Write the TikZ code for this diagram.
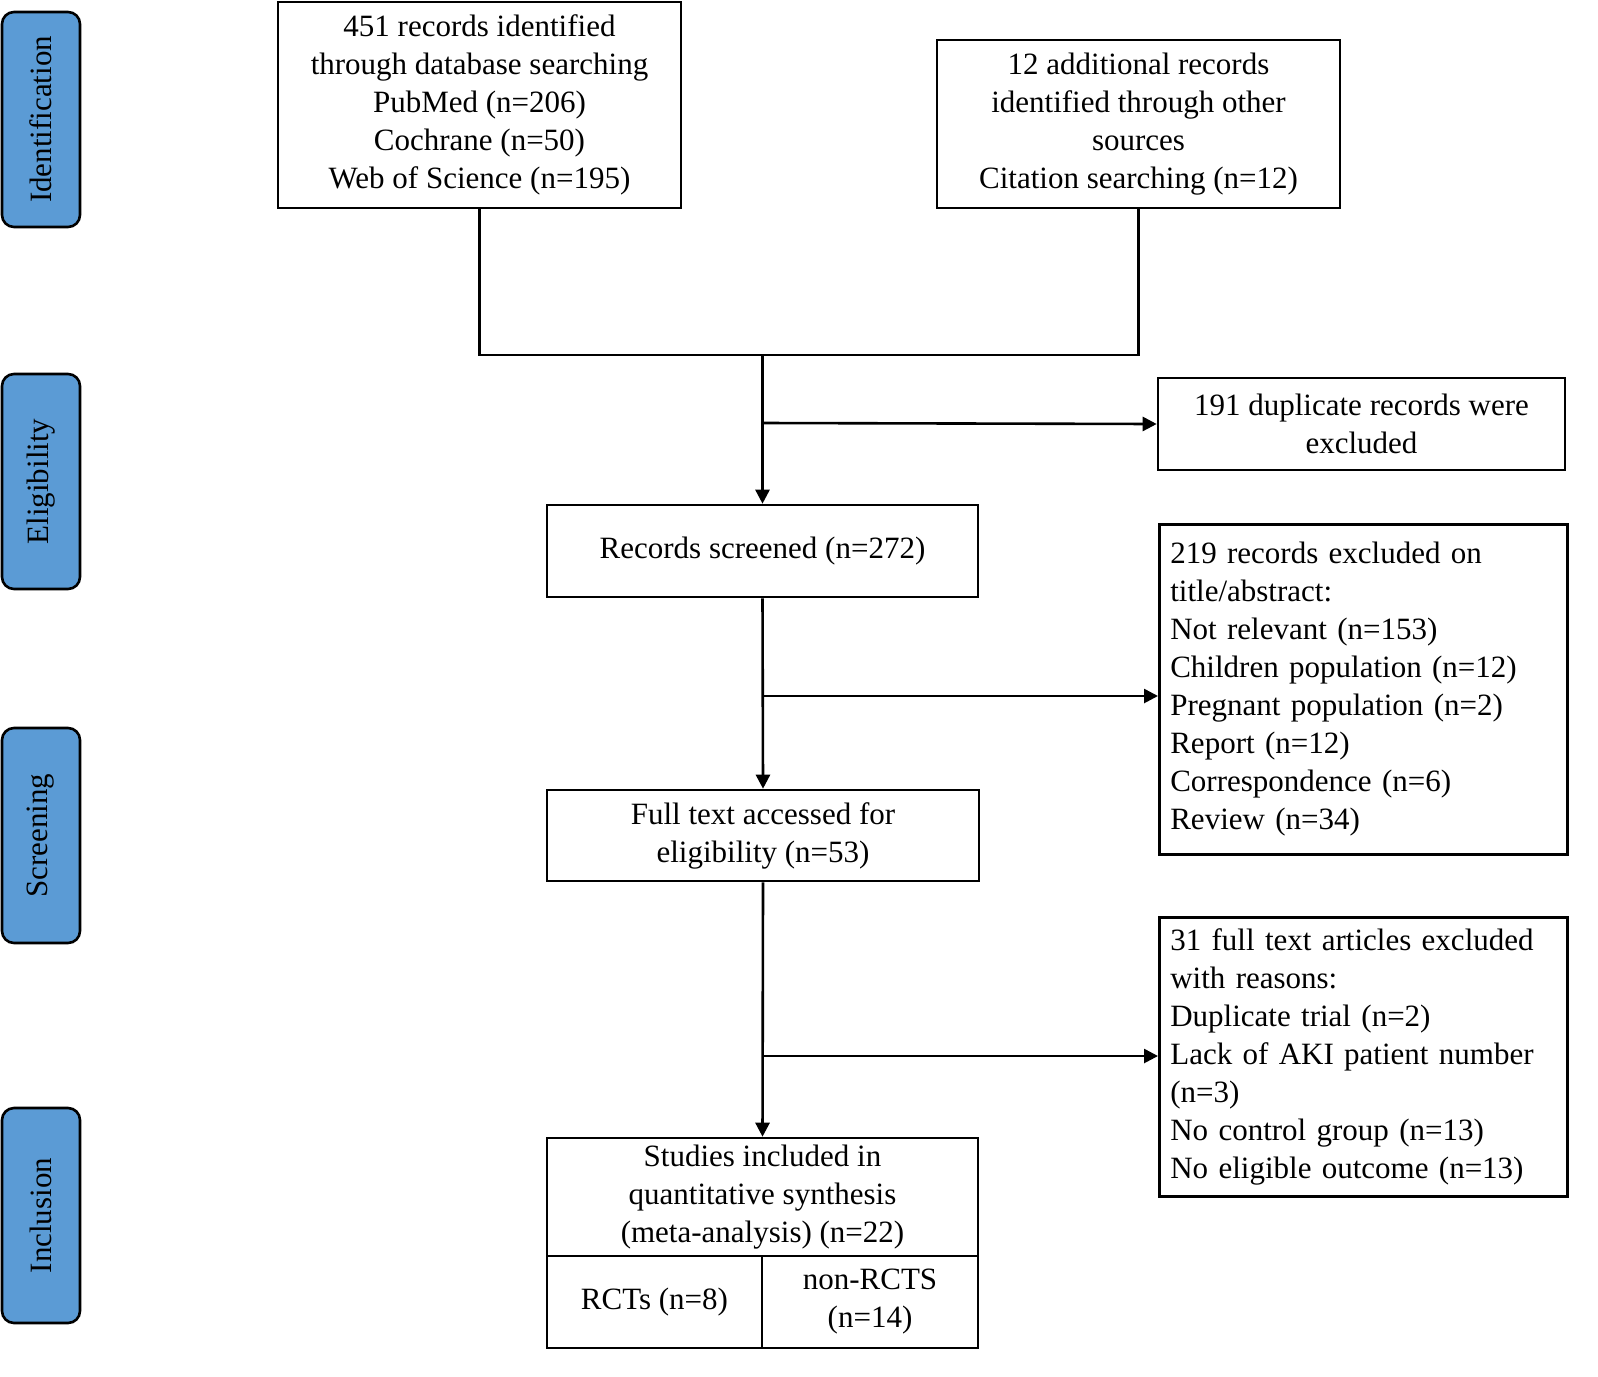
\documentclass[tikz,border=0pt]{standalone}
\usepackage{fontspec}
\setmainfont{Liberation Serif}
\usetikzlibrary{arrows.meta}
\definecolor{stageblue}{HTML}{5B9BD5}
\tikzset{
  box/.style={draw,line width=1.3pt,align=center,inner sep=2pt,font=\fontsize{15.5}{19}\selectfont},
  lbox/.style={box,align=left,text width=193pt,inner sep=5.5pt,anchor=north west},
  stage/.style={draw,line width=1.3pt,rounded corners=6pt,fill=stageblue,minimum width=39pt,minimum height=107.5pt,font=\fontsize{15.5}{19}\selectfont},
  link/.style={line width=1.3pt},
  arr/.style={link,-{Triangle[length=7pt,width=7pt]}}
}
\begin{document}
\begin{tikzpicture}[x=0.5pt,y=-0.5pt]
\useasboundingbox (0,0) rectangle (1598,1376);
%% stages
\node[stage] (s_ident) at (41,119.5) {\rotatebox{90}{Identification}};
\node[stage] (s_elig) at (41,481.5) {\rotatebox{90}{Eligibility}};
\node[stage] (s_screen) at (41,835.5) {\rotatebox{90}{Screening}};
\node[stage] (s_incl) at (41,1215.5) {\rotatebox{90}{Inclusion}};
%% main column
\node[box,minimum width=201.5pt,minimum height=103pt] (n_db) at (479.5,105) {451 records identified\\through database searching\\PubMed (n=206)\\Cochrane (n=50)\\Web of Science (n=195)};
\node[box,minimum width=201.5pt,minimum height=84pt] (n_other) at (1138.5,124) {12 additional records\\identified through other\\sources\\Citation searching (n=12)};
\node[box,minimum width=215.5pt,minimum height=46pt] (n_screen) at (762.5,551) {Records screened (n=272)};
\node[box,minimum width=216pt,minimum height=45.5pt] (n_full) at (763,835.5) {Full text accessed for\\eligibility (n=53)};
\node[box,minimum width=215.5pt,minimum height=59pt] (n_incl) at (762.5,1197) {Studies included in\\quantitative synthesis\\(meta-analysis) (n=22)};
\node[box,minimum width=107.5pt,minimum height=46pt] (n_rct) at (654.5,1302) {RCTs (n=8)};
\node[box,minimum width=108pt,minimum height=46pt] (n_nonrct) at (870,1302) {non-RCTS\\(n=14)};
%% exclusion boxes
\node[box,minimum width=203.5pt,minimum height=46pt] (n_dup) at (1361.5,424) {191 duplicate records were\\excluded};
\node[lbox,minimum height=165pt] (n_title) at (1158,523) {219 records excluded on\\title/abstract:\\Not relevant (n=153)\\Children population (n=12)\\Pregnant population (n=2)\\Report (n=12)\\Correspondence (n=6)\\Review (n=34)};
\node[lbox,minimum height=139.5pt] (n_fulltext) at (1158,916) {31 full text articles excluded\\with reasons:\\Duplicate trial (n=2)\\Lack of AKI patient number\\(n=3)\\No control group (n=13)\\No eligible outcome (n=13)};
%% junctions
\coordinate (j_left) at (479.5,355);
\coordinate (j_mid) at (762.5,355);
\coordinate (j_right) at (1138.5,355);
\coordinate (j_dup) at (762.5,423);
\coordinate (j_title) at (762.5,696);
\coordinate (j_full) at (762.5,1056);
%% connectors
\draw[link] (n_db.south) -- (j_left) -- (j_right) -- (n_other.south);
\draw[arr] (j_mid) -- (n_screen.north);
\draw[arr] (j_dup) -- (n_dup.west);
\draw[arr] (n_screen.south) -- (n_full.north);
\draw[arr] (j_title) -- (j_title-|n_title.west);
\draw[arr] (n_full.south) -- (n_incl.north);
\draw[arr] (j_full) -- (j_full-|n_fulltext.west);
%
\end{tikzpicture}
\end{document}
